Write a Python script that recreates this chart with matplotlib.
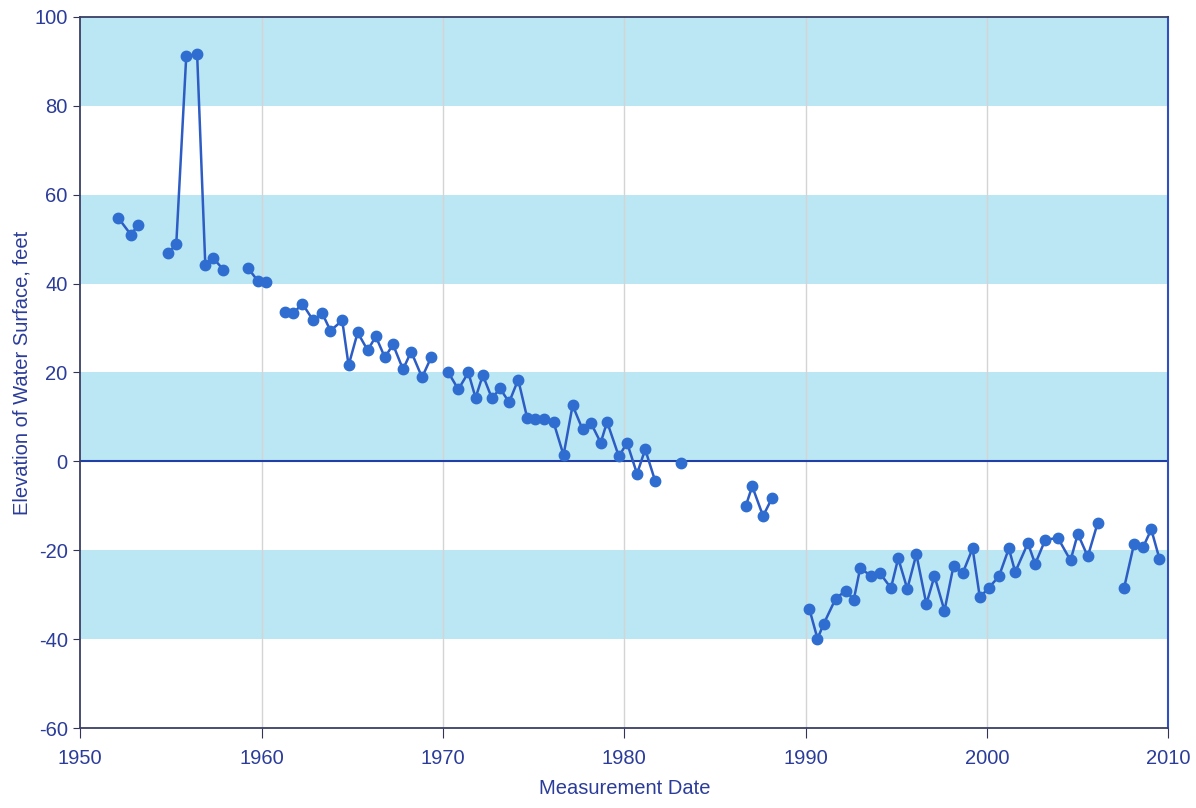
import numpy as np
import matplotlib
matplotlib.use("Agg")
import matplotlib.pyplot as plt

# measurement runs (gaps between runs are not connected)
dates_1 = [1952.1, 1952.8, 1953.2]
elev_1 = [54.8, 51.0, 53.2]

dates_2 = [1954.85, 1955.3, 1955.85, 1956.45, 1956.9, 1957.35, 1957.9]
elev_2 = [46.8, 48.9, 91.2, 91.6, 44.2, 45.7, 43.1]

dates_3 = [1959.25, 1959.8, 1960.25]
elev_3 = [43.5, 40.6, 40.3]

dates_4 = [1961.3, 1961.75, 1962.25, 1962.85, 1963.35, 1963.8, 1964.45, 1964.8,
           1965.3, 1965.85, 1966.3, 1966.8, 1967.25, 1967.8, 1968.25, 1968.85, 1969.35]
elev_4 = [33.5, 33.3, 35.5, 31.7, 33.3, 29.4, 31.7, 21.6,
          29.0, 25.0, 28.1, 23.4, 26.3, 20.7, 24.7, 18.9, 23.4]

dates_5 = [1970.3, 1970.85, 1971.4, 1971.8, 1972.2, 1972.7, 1973.15, 1973.65, 1974.15,
           1974.65, 1975.1, 1975.6, 1976.1, 1976.65, 1977.15, 1977.7, 1978.15, 1978.7,
           1979.05, 1979.7, 1980.15, 1980.7, 1981.15, 1981.7]
elev_5 = [20.0, 16.2, 20.0, 14.3, 19.4, 14.2, 16.4, 13.3, 18.4,
          9.7, 9.6, 9.6, 8.8, 1.4, 12.6, 7.2, 8.7, 4.2,
          8.9, 1.1, 4.2, -2.8, 2.7, -4.4]

dates_6 = [1983.15]
elev_6 = [-0.3]

dates_7 = [1986.7, 1987.05, 1987.65, 1988.15]
elev_7 = [-10.0, -5.6, -12.3, -8.2]

dates_8 = [1990.2, 1990.65, 1991.0, 1991.65, 1992.2, 1992.65, 1993.0, 1993.6, 1994.1,
           1994.7, 1995.1, 1995.6, 1996.1, 1996.65, 1997.1, 1997.65, 1998.15, 1998.65,
           1999.2, 1999.6, 2000.1, 2000.65, 2001.2, 2001.55, 2002.25, 2002.65, 2003.2,
           2003.9, 2004.6, 2005.0, 2005.55, 2006.1]
elev_8 = [-33.2, -39.9, -36.5, -30.9, -29.1, -31.1, -24.1, -25.7, -25.2,
          -28.5, -21.8, -28.7, -20.9, -32.1, -25.8, -33.6, -23.5, -25.2,
          -19.6, -30.6, -28.4, -25.9, -19.6, -24.9, -18.4, -23.1, -17.7,
          -17.2, -22.3, -16.3, -21.4, -13.8]

dates_9 = [2007.55, 2008.1, 2008.6, 2009.05, 2009.5]
elev_9 = [-28.5, -18.6, -19.3, -15.3, -21.9]

runs = [(dates_1, elev_1), (dates_2, elev_2), (dates_3, elev_3), (dates_4, elev_4),
        (dates_5, elev_5), (dates_6, elev_6), (dates_7, elev_7), (dates_8, elev_8),
        (dates_9, elev_9)]

x_ticks = [1950, 1960, 1970, 1980, 1990, 2000, 2010]
y_ticks = [-60, -40, -20, 0, 20, 40, 60, 80, 100]
band_lows = [80, 40, 0, -40]   # shaded 20 ft bands

text_col = '#2b3c9a'
band_col = '#bae7f3'
pt_col = '#2f6ed0'
line_col = '#2c5cc4'

plt.rcParams['font.family'] = ['Liberation Sans', 'DejaVu Sans']
plt.rcParams['axes.unicode_minus'] = False

fig = plt.figure(figsize=(11.96, 8.08), dpi=100)
ax = fig.add_axes([0.067, 0.099, 0.910, 0.880])

# alternating shaded bands
for lo in band_lows:
    ax.axhspan(lo, lo + 20, color=band_col, lw=0, zorder=0)

for xv in x_ticks[1:-1]:
    ax.axvline(xv, color='#d4d4d4', lw=1, zorder=1)
ax.axhline(0, color='#2040a8', lw=1.5, zorder=2)

for d, e in runs:
    ax.plot(d, e, '-', color=line_col, lw=1.8, zorder=3)
    ax.plot(d, e, 'o', color=pt_col, ms=7.5, mec=pt_col, zorder=4)

ax.set_xlim(1950, 2010)
ax.set_ylim(-60, 100)
ax.set_xticks(x_ticks)
ax.set_yticks(y_ticks)
ax.tick_params(axis='both', labelsize=14.5, colors='#333355', labelcolor=text_col)
ax.tick_params(axis='x', length=7, pad=8)
ax.tick_params(axis='y', length=5, pad=4)

ax.set_xlabel('Measurement Date', fontsize=14.5, color=text_col, labelpad=8)
ax.set_ylabel('Elevation of Water Surface, feet', fontsize=14.5, color=text_col, labelpad=2)

for side in ['left', 'bottom', 'top']:
    ax.spines[side].set_color('#3a3f66')
    ax.spines[side].set_linewidth(1.3)
ax.spines['right'].set_color('#3050c0')
ax.spines['right'].set_linewidth(1.5)

fig.savefig('out.png', dpi=100, facecolor='white')
